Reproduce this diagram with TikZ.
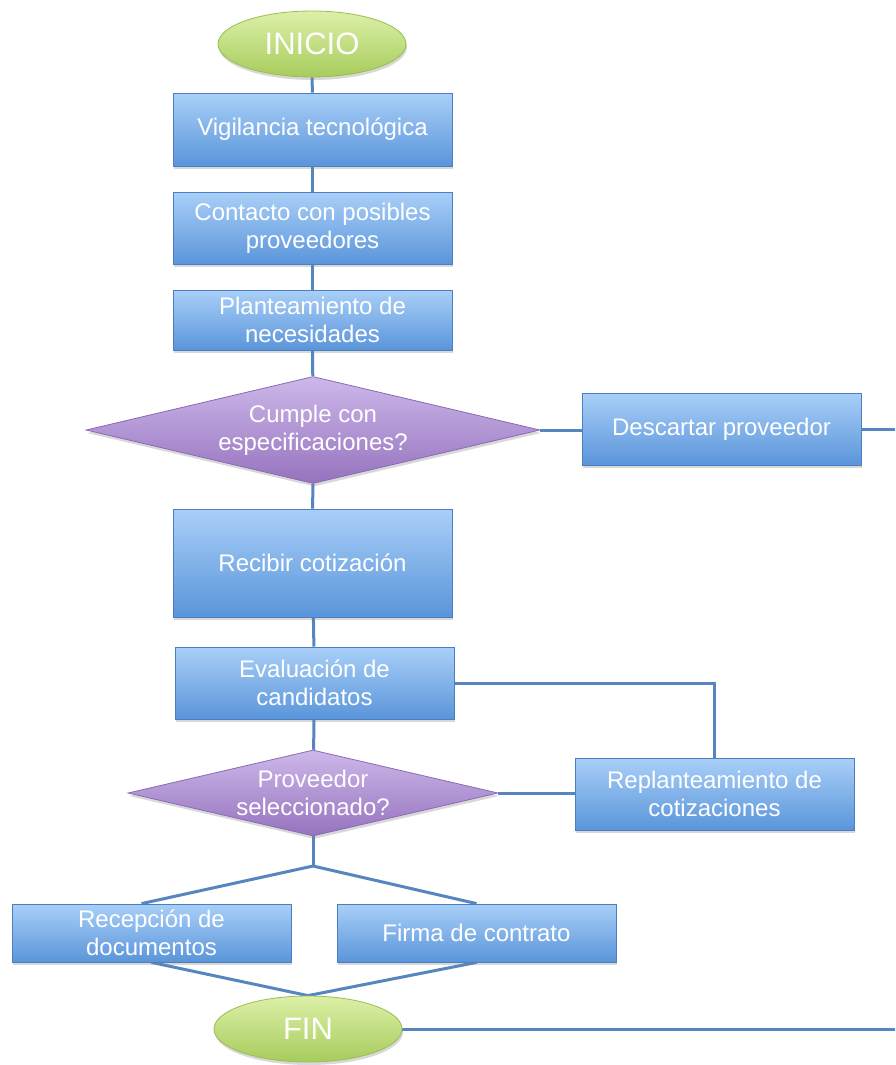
\documentclass[tikz,border=0pt]{standalone}
\usepackage{fontspec}
\setmainfont{Liberation Sans}
\usetikzlibrary{shapes.geometric,shadows,backgrounds}
\definecolor{boxtop}{HTML}{A9CFF8}
\definecolor{boxbot}{HTML}{5A95DA}
\definecolor{boxedge}{HTML}{4A80C2}
\definecolor{dectop}{HTML}{CDB8EA}
\definecolor{decbot}{HTML}{9673BE}
\definecolor{decedge}{HTML}{8A6AB5}
\definecolor{termtop}{HTML}{DDF0A8}
\definecolor{termbot}{HTML}{A7CC5C}
\definecolor{termedge}{HTML}{98BD55}
\definecolor{wirecol}{HTML}{5686C0}
\begin{document}
\begin{tikzpicture}[x=1pt,y=-1pt,
  base/.style={text=white, font=\fontsize{24}{28}\selectfont, align=center,
    inner sep=0pt, line width=0.8pt,
    drop shadow={opacity=0.3, shadow xshift=1pt, shadow yshift=-3pt}},
  process/.style={base, rectangle, draw=boxedge, top color=boxtop,
    bottom color=boxbot, minimum width=279pt},
  decision/.style={base, diamond, draw=decedge, top color=dectop,
    bottom color=decbot},
  terminal/.style={base, ellipse, draw=termedge, top color=termtop,
    bottom color=termbot, minimum width=188pt, minimum height=66pt,
    font=\fontsize{31}{36}\selectfont},
  wire/.style={draw=wirecol, line width=3pt}]

\useasboundingbox (0,0) rectangle (895,1065);

% steps of the procedure
\node[terminal] (start) at (312,44) {INICIO};
\node[process, minimum height=73pt] (vig) at (312.5,129.5) {Vigilancia tecnológica};
\node[process, minimum height=72pt] (cont) at (312.5,228) {Contacto con posibles\\proveedores};
\node[process, minimum height=60pt] (plan) at (312.5,320) {Planteamiento de\\necesidades};
\node[decision, aspect=4.24, minimum width=454pt, minimum height=107pt] (spec) at (313,430) {Cumple con\\especificaciones?};
\node[process, minimum height=72pt] (desc) at (721.5,429) {Descartar proveedor};
\node[process, minimum height=108pt] (rec) at (312.5,563) {Recibir cotización};
\node[process, minimum height=72pt] (eval) at (314.5,683) {Evaluación de\\candidatos};
\node[decision, aspect=4.3, minimum width=370pt, minimum height=86pt] (sel) at (313,793) {Proveedor\\seleccionado?};
\node[process, minimum height=72pt] (repl) at (714.5,794) {Replanteamiento de\\cotizaciones};
\node[process, minimum height=58pt] (recep) at (151.5,933) {Recepción de\\documentos};
\node[process, minimum height=58pt] (firma) at (476.5,933) {Firma de contrato};
\node[terminal] (fin) at (308,1029) {FIN};

\coordinate (split) at (313,866);
\coordinate (descout) at (895,429);
\coordinate (finout) at (895,1029);

% connectors behind the shapes
\begin{scope}[on background layer]
  \fill[white] (0,0) rectangle (895,1065);
  \draw[wire] (start) -- (vig);
  \draw[wire] (vig) -- (cont);
  \draw[wire] (cont) -- (plan);
  \draw[wire] (plan) -- (spec);
  \draw[wire] (spec) -- (rec);
  \draw[wire] (spec.east) -- (spec.east -| desc.west);
  \draw[wire] (desc.east) -- (descout);
  \draw[wire] (rec) -- (eval);
  \draw[wire] (eval) -- (sel);
  \draw[wire] (eval.east) -| (repl.north);
  \draw[wire] (sel.east) -- (sel.east -| repl.west);
  \draw[wire] (sel.south) -- (split);
  \draw[wire] (split) -- ([xshift=-10pt]recep.north);
  \draw[wire] (split) -- (firma.north);
  \draw[wire] (recep.south) -- (fin.north);
  \draw[wire] (firma.south) -- (fin.north);
  \draw[wire] (fin.east) -- (finout);
\end{scope}
\end{tikzpicture}
\end{document}
